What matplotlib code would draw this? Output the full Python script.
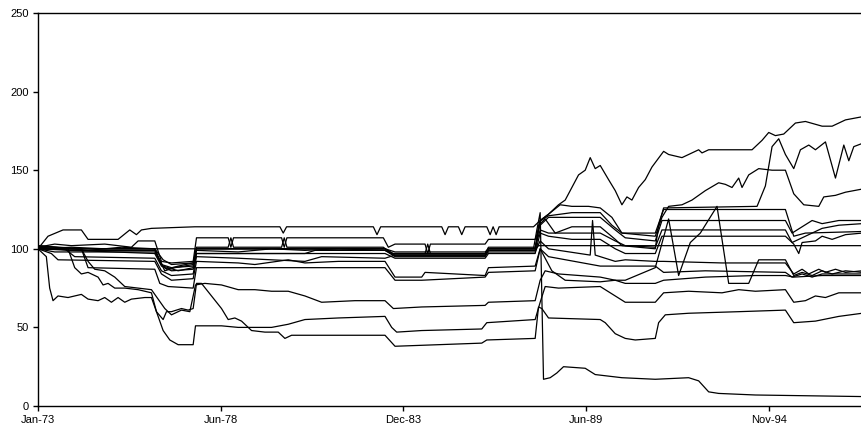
import numpy as np
import pandas as pd
import matplotlib
matplotlib.use('Agg')
import matplotlib.pyplot as plt

# Index series (base 100 = Jan-73); breakpoints as (decimal year, value)
a_t = [1973.0, 1974.0, 1975.0, 1976.5, 1976.7, 1976.85, 1977.2, 1977.65, 1977.75, 1980.0, 1983.4, 1983.65, 1986.4, 1986.5, 1987.9, 1988.05, 1988.3, 1988.6, 1988.8, 1989.0, 1989.2, 1989.4, 1989.55, 1989.7, 1989.85, 1990.1, 1990.3, 1990.5, 1990.65, 1990.8, 1991.0, 1991.2, 1991.4, 1991.75, 1991.9, 1992.3, 1992.8, 1992.9, 1993.1, 1994.4, 1994.7, 1994.9, 1995.1, 1995.35, 1995.5, 1995.7, 1996.0, 1996.5, 1996.8, 1997.2, 1997.7]
a_v = [100, 101, 100, 100, 90, 87, 89, 91, 100, 100, 100, 97, 97, 100, 100, 118, 122, 128, 131, 139, 147, 150, 158, 151, 153, 144, 137, 128, 133, 131, 139, 144, 152, 162, 160, 158, 163, 161, 163, 163, 169, 174, 172, 173, 176, 180, 181, 178, 178, 182, 184]

b_t = [1973.0, 1973.5, 1976.5, 1976.75, 1977.2, 1977.65, 1977.75, 1981.0, 1981.3, 1983.4, 1983.7, 1986.4, 1986.5, 1987.9, 1988.0, 1988.2, 1988.5, 1989.0, 1989.85, 1990.3, 1990.5, 1991.5, 1991.6, 1991.75, 1994.55, 1994.8, 1995.0, 1995.2, 1995.4, 1995.65, 1995.85, 1996.1, 1996.3, 1996.6, 1996.9, 1997.15, 1997.3, 1997.45, 1997.7]
b_v = [100, 98, 98, 89, 86, 88, 97, 97, 99, 99, 95, 95, 99, 99, 115, 119, 110, 114, 114, 106, 102, 100, 115, 126, 127, 140, 165, 170, 160, 151, 163, 166, 163, 168, 145, 166, 156, 165, 167]

c_t = [1973.0, 1974.0, 1976.5, 1976.8, 1977.1, 1977.65, 1977.75, 1979.0, 1980.0, 1981.0, 1982.0, 1983.4, 1983.7, 1986.4, 1986.5, 1987.9, 1988.05, 1988.3, 1988.65, 1989.0, 1989.5, 1989.85, 1990.2, 1990.5, 1991.5, 1991.7, 1991.9, 1992.3, 1992.6, 1993.0, 1993.4, 1993.6, 1993.8, 1994.0, 1994.1, 1994.3, 1994.6, 1995.0, 1995.4, 1995.65, 1995.95, 1996.4, 1996.55, 1996.9, 1997.2, 1997.7]
c_v = [101, 99, 99, 86, 88, 90, 99, 98, 100, 99, 100, 99, 96, 96, 99, 99, 118, 122, 128, 127, 127, 126, 120, 110, 108, 120, 127, 128, 131, 137, 142, 141, 139, 145, 139, 147, 151, 150, 150, 135, 128, 127, 133, 134, 136, 138]

d_t = [1973.0, 1973.3, 1973.75, 1974.3, 1974.5, 1975.4, 1975.75, 1975.95, 1976.1, 1976.4, 1977.7, 1980.25, 1980.35, 1980.45, 1983.05, 1983.16, 1983.27, 1985.1, 1985.2, 1985.3, 1985.6, 1985.7, 1985.8, 1986.45, 1986.55, 1986.64, 1986.73, 1986.82, 1987.85, 1988.0, 1988.3, 1989.0, 1989.85, 1990.2, 1990.5, 1991.5, 1991.75, 1995.4, 1995.65, 1996.0, 1997.7]
d_v = [100, 108, 112, 112, 106, 106, 112, 109, 112, 113, 114, 114, 110, 114, 114, 109, 114, 114, 109, 114, 114, 109, 114, 114, 109, 114, 109, 114, 114, 117, 121, 123, 123, 115, 110, 110, 125, 125, 108, 110, 111]

e_t = [1973.0, 1974.3, 1974.5, 1976.5, 1976.65, 1976.9, 1977.65, 1977.75, 1981.0, 1983.4, 1983.7, 1984.5, 1986.4, 1986.5, 1987.9, 1988.05, 1988.4, 1988.8, 1989.85, 1990.3, 1990.6, 1991.5, 1991.9, 1992.2, 1992.55, 1992.85, 1993.35, 1993.7, 1994.3, 1994.6, 1995.4, 1995.65, 1995.9, 1996.2, 1996.5, 1996.8, 1997.2, 1997.7]
e_v = [102, 100, 88, 87, 78, 76, 75, 88, 88, 88, 80, 80, 82, 85, 86, 100, 86, 80, 79, 80, 80, 88, 119, 83, 104, 110, 127, 78, 78, 93, 93, 83, 85, 83, 86, 84, 86, 85]

f_t = [1973.0, 1973.5, 1974.0, 1975.0, 1975.8, 1976.0, 1976.5, 1976.7, 1977.0, 1977.65, 1977.75, 1978.7, 1978.78, 1978.86, 1980.3, 1980.38, 1980.46, 1983.35, 1983.5, 1983.7, 1984.6, 1984.68, 1984.76, 1986.4, 1986.5, 1987.9, 1988.05, 1988.3, 1989.85, 1990.3, 1990.6, 1991.5, 1991.7, 1995.4, 1995.6, 1995.9, 1996.2, 1996.5, 1997.0, 1997.7]
f_v = [101, 103, 102, 103, 101, 105, 105, 92, 91, 92, 107, 107, 101, 107, 107, 101, 107, 107, 101, 103, 103, 97, 103, 103, 106, 106, 115, 120, 120, 112, 107, 105, 118, 118, 110, 114, 118, 116, 118, 118]

g_t = [1973.0, 1973.5, 1974.5, 1975.5, 1976.5, 1976.7, 1977.0, 1977.65, 1977.75, 1978.7, 1978.78, 1978.86, 1980.3, 1980.38, 1980.46, 1983.35, 1983.6, 1984.6, 1984.68, 1984.76, 1986.4, 1986.5, 1987.9, 1988.05, 1988.3, 1989.0, 1989.85, 1990.3, 1990.6, 1991.5, 1991.7, 1995.4, 1995.6, 1996.0, 1996.5, 1997.0, 1997.7]
g_v = [102, 101, 99, 101, 100, 90, 88, 89, 101, 101, 107, 101, 101, 107, 101, 101, 97, 97, 103, 97, 97, 101, 101, 112, 110, 110, 110, 105, 102, 101, 112, 112, 104, 108, 113, 115, 116]

h_t = [1973.0, 1974.0, 1976.5, 1976.7, 1977.0, 1977.65, 1977.75, 1983.4, 1983.7, 1986.4, 1986.5, 1987.9, 1988.05, 1988.3, 1989.0, 1989.85, 1990.3, 1990.6, 1991.5, 1991.7, 1995.4, 1995.65, 1995.8, 1995.9, 1996.3, 1996.5, 1996.8, 1997.2, 1997.7]
h_v = [100, 99, 97, 89, 86, 87, 97, 97, 94, 94, 97, 97, 110, 108, 106, 106, 100, 97, 97, 108, 108, 103, 97, 104, 105, 108, 106, 109, 110]

i_t = [1973.0, 1976.5, 1977.7, 1983.4, 1983.7, 1986.4, 1986.5, 1987.9, 1988.0, 1997.7]
i_v = [100, 100, 100, 100, 98, 98, 100, 100, 102, 102]

j_t = [1973.0, 1973.8, 1974.1, 1976.5, 1976.7, 1977.0, 1977.65, 1977.75, 1979.0, 1980.0, 1981.0, 1981.5, 1983.4, 1983.7, 1986.4, 1986.5, 1987.9, 1988.05, 1988.3, 1989.55, 1989.62, 1989.7, 1989.85, 1990.3, 1990.6, 1991.5, 1991.75, 1993.5, 1995.4, 1995.65, 1995.9, 1996.1, 1996.4, 1996.6, 1996.9, 1997.2, 1997.7]
j_v = [100, 100, 95, 94, 86, 83, 84, 95, 94, 93, 92, 95, 94, 96, 96, 98, 98, 105, 100, 96, 118, 96, 95, 92, 93, 92, 92, 91, 91, 84, 87, 84, 87, 85, 87, 85, 86]

k_t = [1973.0, 1973.4, 1973.6, 1976.5, 1976.7, 1977.0, 1977.65, 1977.75, 1979.0, 1979.5, 1980.5, 1981.0, 1982.0, 1983.4, 1983.7, 1984.5, 1984.6, 1986.4, 1986.5, 1987.9, 1988.05, 1988.3, 1989.85, 1990.3, 1990.6, 1991.5, 1991.75, 1993.0, 1995.4, 1995.6, 1995.9, 1996.2, 1996.5, 1997.0, 1997.7]
k_v = [100, 97, 93, 92, 84, 80, 81, 92, 91, 90, 93, 91, 92, 92, 82, 82, 85, 83, 88, 89, 100, 95, 89, 89, 89, 89, 85, 86, 85, 82, 84, 82, 84, 84, 84]

l_t = [1973.0, 1973.25, 1973.35, 1973.45, 1973.6, 1973.9, 1974.3, 1974.5, 1974.8, 1975.0, 1975.2, 1975.4, 1975.6, 1975.8, 1976.2, 1976.4, 1976.55, 1976.75, 1976.95, 1977.2, 1977.65, 1977.72, 1978.5, 1979.0, 1980.0, 1980.5, 1981.0, 1982.0, 1983.4, 1983.6, 1983.75, 1984.5, 1986.3, 1986.45, 1987.9, 1988.05, 1988.2, 1988.6, 1989.85, 1990.3, 1990.6, 1991.5, 1991.75, 1992.5, 1993.5, 1994.0, 1994.5, 1995.4, 1995.65, 1996.0, 1996.3, 1996.6, 1997.0, 1997.7]
l_v = [100, 95, 75, 67, 70, 69, 71, 68, 67, 69, 66, 69, 66, 68, 69, 69, 60, 48, 42, 39, 39, 51, 51, 50, 50, 52, 55, 56, 57, 50, 47, 48, 49, 53, 55, 66, 76, 75, 76, 70, 66, 66, 72, 73, 72, 74, 73, 74, 66, 67, 70, 69, 72, 72]

m_t = [1973.0, 1973.9, 1974.1, 1974.3, 1974.5, 1974.8, 1974.95, 1975.1, 1975.3, 1975.6, 1976.0, 1976.4, 1976.55, 1976.75, 1976.85, 1977.0, 1977.3, 1977.5, 1977.65, 1977.75, 1977.9, 1978.2, 1978.5, 1978.7, 1978.9, 1979.1, 1979.4, 1979.8, 1980.2, 1980.4, 1980.6, 1981.0, 1983.4, 1983.7, 1985.0, 1986.3, 1986.45, 1987.9, 1988.0, 1988.1, 1988.3, 1989.85, 1990.0, 1990.3, 1990.6, 1990.9, 1991.5, 1991.6, 1991.8, 1992.5, 1994.0, 1995.4, 1995.65, 1996.3, 1997.0, 1997.7]
m_v = [100, 100, 88, 84, 85, 82, 77, 78, 75, 75, 74, 72, 60, 55, 60, 60, 62, 61, 62, 78, 78, 70, 62, 55, 56, 54, 48, 47, 47, 43, 45, 45, 45, 38, 39, 40, 42, 43, 63, 62, 56, 55, 53, 46, 43, 42, 43, 53, 58, 59, 60, 61, 53, 54, 57, 59]

n_t = [1973.0, 1974.0, 1976.5, 1976.75, 1977.0, 1977.65, 1977.75, 1983.4, 1983.65, 1986.4, 1986.5, 1987.85, 1987.95, 1988.05, 1988.15, 1988.35, 1988.55, 1988.75, 1989.4, 1989.7, 1990.5, 1991.5, 1992.5, 1992.8, 1993.1, 1993.4, 1994.5, 1997.7]
n_v = [101, 100, 100, 93, 90, 91, 100, 100, 96, 96, 100, 100, 112, 123, 17, 18, 21, 25, 24, 20, 18, 17, 18, 16, 9, 8, 7, 6]

o_t = [1973.0, 1974.3, 1974.5, 1974.7, 1975.0, 1975.3, 1975.6, 1976.0, 1976.4, 1976.6, 1976.8, 1977.0, 1977.3, 1977.55, 1977.72, 1978.0, 1978.5, 1979.0, 1979.5, 1980.0, 1980.5, 1981.0, 1981.5, 1982.5, 1983.4, 1983.65, 1984.5, 1986.4, 1986.5, 1987.9, 1988.05, 1988.2, 1988.6, 1989.85, 1990.3, 1990.6, 1991.5, 1991.75, 1993.0, 1994.5, 1995.4, 1995.65, 1996.5, 1997.7]
o_v = [100, 100, 92, 87, 86, 82, 76, 75, 74, 68, 62, 58, 61, 60, 77, 78, 77, 74, 74, 73, 73, 70, 66, 67, 67, 62, 63, 64, 66, 67, 80, 86, 84, 82, 80, 78, 78, 80, 82, 83, 83, 82, 83, 83]

series = [(a_t, a_v), (b_t, b_v), (c_t, c_v), (d_t, d_v), (e_t, e_v), (f_t, f_v),
          (g_t, g_v), (h_t, h_v), (i_t, i_v), (j_t, j_v), (k_t, k_v), (l_t, l_v),
          (m_t, m_v), (n_t, n_v), (o_t, o_v)]

start = pd.Timestamp('1973-01-01')


def to_dates(years):
    days = (np.asarray(years, dtype=float) - 1973.0) * 365.25
    return start + pd.to_timedelta(days, unit='D')


plt.rcParams['font.family'] = ['Liberation Sans', 'DejaVu Sans']

fig = plt.figure(figsize=(8.62, 4.30), dpi=100)
ax = fig.add_axes([38 / 862, 24 / 430, 824 / 862, 393 / 430])

for t, v in series:
    ax.plot(to_dates(t), v, color='black', linewidth=0.9)

# Excel-style date axis: a tick every 2000 days
ticks = pd.date_range(start, periods=5, freq='2000D')
ax.set_xticks(ticks)
ax.set_xticklabels([d.strftime('%b-%y') for d in ticks])
ax.set_xlim(start, start + pd.Timedelta(days=9020))

ax.set_ylim(0, 250)
ax.set_yticks(range(0, 251, 50))

ax.spines['right'].set_visible(False)
for s in ['left', 'bottom', 'top']:
    ax.spines[s].set_linewidth(1.0)
ax.tick_params(axis='both', direction='out', length=3.5, width=1.0, labelsize=8, pad=3)

fig.savefig('out.png', dpi=100)
